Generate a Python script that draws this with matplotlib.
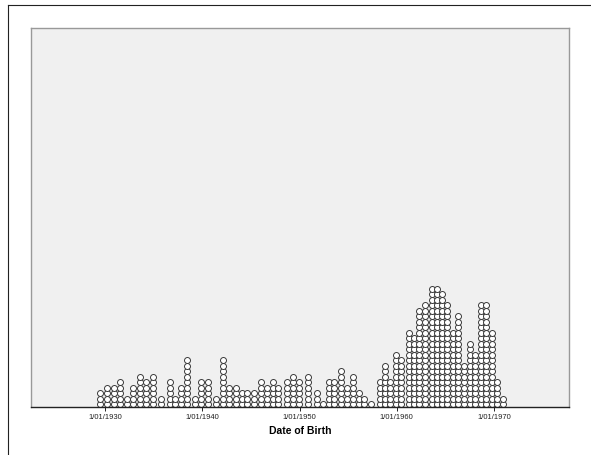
import numpy as np
import matplotlib
matplotlib.use('Agg')
import matplotlib.pyplot as plt
from matplotlib.lines import Line2D

# column dates (decimal years) and dot counts
bin_years = [1929.49, 1930.21, 1930.93, 1931.54, 1932.26, 1932.88, 1933.60, 1934.22, 1934.94, 1935.76,
             1936.68, 1937.20, 1937.81, 1938.43, 1939.25, 1939.87, 1940.59, 1941.41, 1942.13, 1942.75,
             1943.47, 1944.09, 1944.60, 1945.32, 1946.04, 1946.66, 1947.27, 1947.79, 1948.71, 1949.33,
             1949.95, 1950.87, 1951.80, 1952.42, 1953.03, 1953.55, 1954.27, 1954.88, 1955.50, 1956.12,
             1956.63, 1957.35, 1958.28, 1958.79, 1959.31, 1959.92, 1960.44, 1961.26, 1961.77, 1962.29,
             1962.90, 1963.62, 1964.14, 1964.65, 1965.17, 1965.78, 1966.30, 1966.92, 1967.53, 1968.05,
             1968.66, 1969.18, 1969.79, 1970.31, 1970.93]
counts = [3, 4, 4, 5, 2, 4, 6, 5, 6, 2,
          5, 2, 4, 9, 2, 5, 5, 2, 9, 4,
          4, 3, 3, 3, 5, 4, 5, 4, 5, 6,
          5, 6, 3, 1, 5, 5, 7, 4, 6, 3,
          2, 1, 5, 8, 5, 10, 9, 14, 13, 18,
          19, 22, 22, 21, 19, 14, 17, 8, 12, 10,
          19, 19, 14, 5, 2]
tick_years = [1930, 1940, 1950, 1960, 1970]
tick_labels = ['1/01/1930', '1/01/1940', '1/01/1950', '1/01/1960', '1/01/1970']

plt.rcParams['font.family'] = ['Liberation Sans', 'DejaVu Sans']

fig = plt.figure(figsize=(5.91, 4.55), dpi=100)
ax = fig.add_axes([0.0525, 0.1055, 0.9103, 0.833])
ax.set_facecolor('#f0f0f0')

xs, ys = [], []
for yr, n in zip(bin_years, counts):
    for k in range(n):
        xs.append(yr)
        ys.append(k + 0.5)
ax.plot(xs, ys, linestyle='none', marker='o', markersize=4.3,
        markerfacecolor='white', markeredgecolor='#3a3a3a', markeredgewidth=0.7)

ax.set_xlim(1922.39, 1977.71)
ax.set_ylim(0, 68.9)
ax.set_yticks([])
ax.set_xticks(tick_years)
ax.set_xticklabels(tick_labels, fontsize=5.5)
ax.tick_params(axis='x', length=3, width=0.7, pad=2, colors='#222222')
ax.set_xlabel('Date of Birth', fontsize=7.5, fontweight='bold', labelpad=4)

for s in ['top', 'left', 'right']:
    ax.spines[s].set_color('#999999')
    ax.spines[s].set_linewidth(1.0)
ax.spines['bottom'].set_color('#222222')
ax.spines['bottom'].set_linewidth(1.0)

# outer frame (left and top edges visible)
fig.add_artist(Line2D([7.5 / 591, 7.5 / 591], [0, 1 - 5 / 455], color='#222222', lw=0.8))
fig.add_artist(Line2D([7.5 / 591, 1], [1 - 5 / 455, 1 - 5 / 455], color='#222222', lw=0.8))

fig.savefig('out.png', dpi=100)
